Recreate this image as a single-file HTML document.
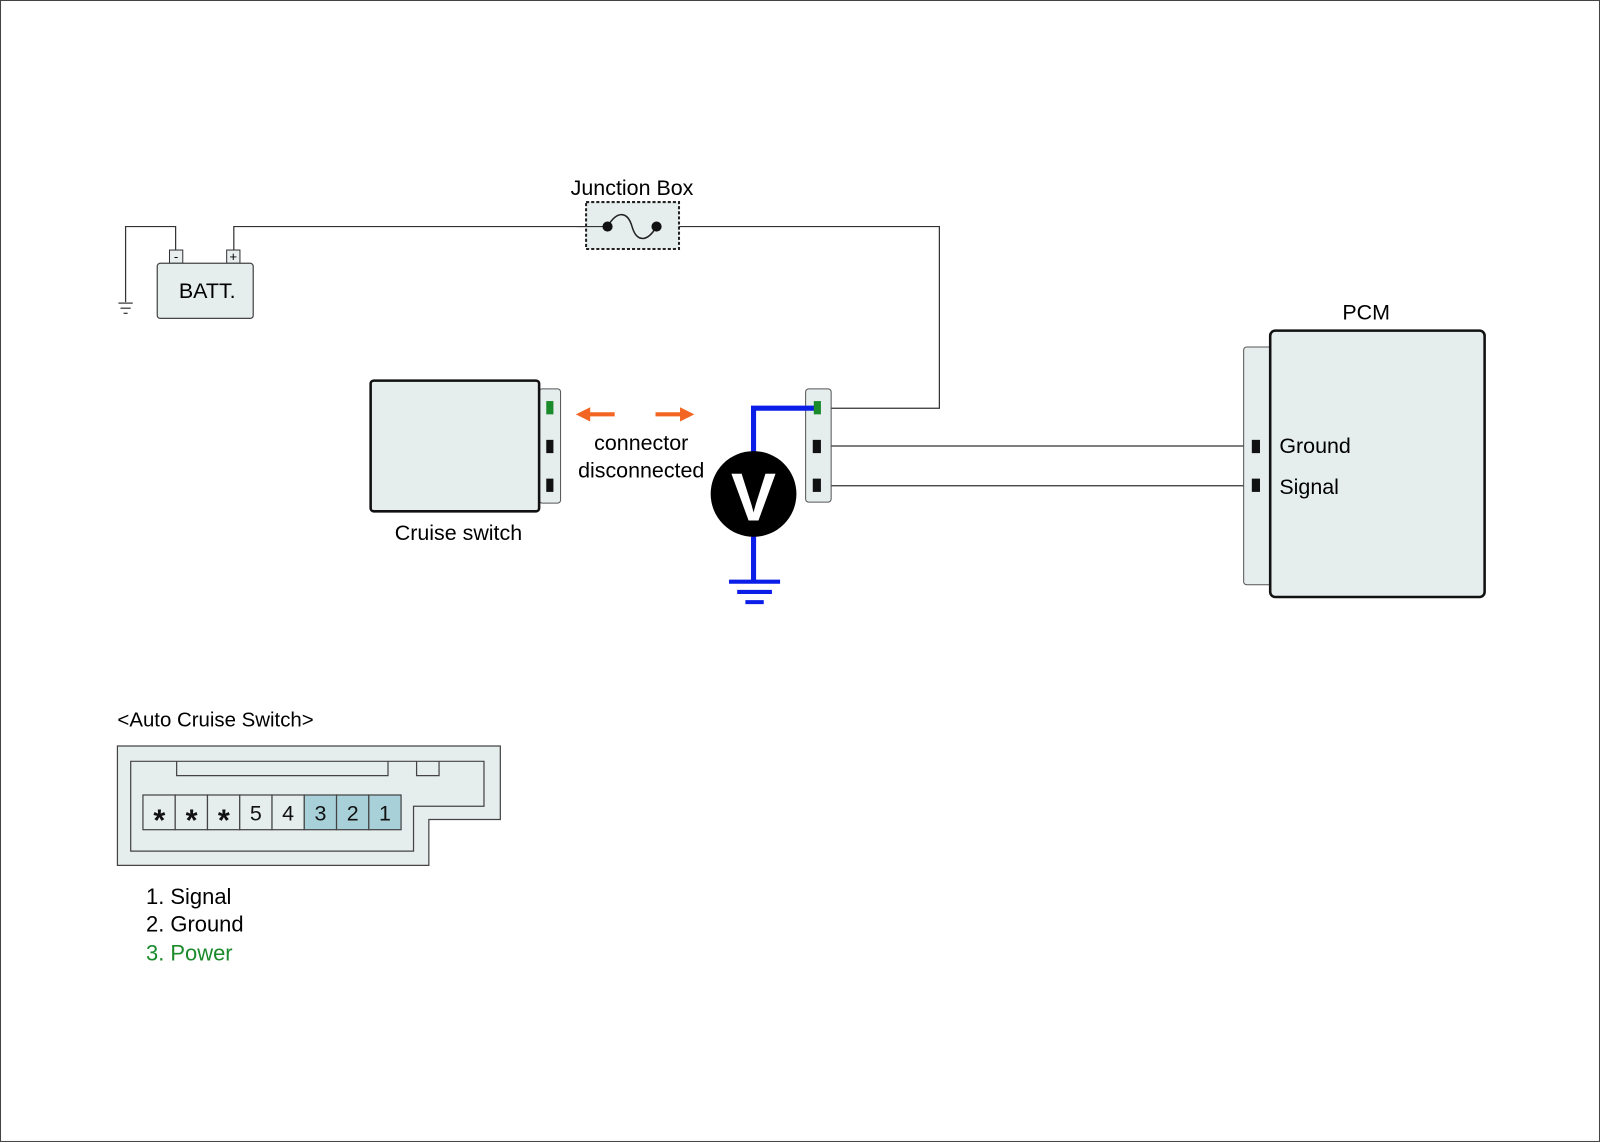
<!DOCTYPE html>
<html><head><meta charset="utf-8"><style>html,body{margin:0;padding:0;background:#fff}svg{display:block}</style></head><body>
<svg width="1600" height="1143" viewBox="0 0 1567 1120" preserveAspectRatio="none" xmlns="http://www.w3.org/2000/svg" font-family="Liberation Sans, Arial, sans-serif">
<rect x="0.5" y="0.5" width="1566" height="1118" fill="#fff" stroke="#444"/>
<g stroke="#333" fill="none" stroke-width="1.2">
<polyline points="172,245 172,222 123,222 123,296"/>
<line x1="116" y1="297" x2="130" y2="297"/><line x1="118" y1="302" x2="128" y2="302"/><line x1="121" y1="307" x2="125" y2="307"/>
<polyline points="229,245 229,222 595,222"/>
<polyline points="643,222 920,222 920,400 800,400"/>
</g>
<rect x="166" y="245" width="13" height="13" fill="#e8eeee" stroke="#333"/>
<rect x="222" y="245" width="13" height="13" fill="#e8eeee" stroke="#333"/>
<text x="172.5" y="256" font-size="13" text-anchor="middle">-</text>
<text x="228.5" y="256" font-size="13" text-anchor="middle">+</text>
<rect x="154" y="258" width="94" height="54" rx="3" fill="#e6eded" stroke="#444" stroke-width="1.2"/>
<text x="203" y="292" font-size="21" text-anchor="middle">BATT.</text>
<text x="619" y="191" font-size="21" text-anchor="middle">Junction Box</text>
<rect x="574" y="198" width="91" height="46" fill="#e6eded" stroke="#222" stroke-width="2" stroke-dasharray="3,2"/>
<line x1="565" y1="222" x2="595" y2="222" stroke="#333"/>
<path d="M595,222 C605,205 615,208 619,222 C623,236 633,239 643,222" fill="none" stroke="#222" stroke-width="1.5"/>
<circle cx="595" cy="222" r="5" fill="#111"/><circle cx="643" cy="222" r="5" fill="#111"/>
<rect x="528" y="381" width="21" height="112" rx="3" fill="#e6eded" stroke="#555"/>
<rect x="363" y="373" width="165" height="128" rx="3" fill="#e6eded" stroke="#111" stroke-width="2.5"/>
<rect x="535" y="393" width="7" height="13" fill="#1a8a2a"/>
<rect x="535" y="431" width="7" height="13" fill="#111"/>
<rect x="535" y="469" width="7" height="13" fill="#111"/>
<text x="449" y="529" font-size="21" text-anchor="middle">Cruise switch</text>
<g fill="#f26522" stroke="#f26522">
<line x1="575" y1="406" x2="602" y2="406" stroke-width="4"/><polygon points="564,406 578,399 578,413" stroke="none"/>
<line x1="642" y1="406" x2="668" y2="406" stroke-width="4"/><polygon points="680,406 666,399 666,413" stroke="none"/>
</g>
<text x="628" y="441" font-size="21" text-anchor="middle">connector</text>
<text x="628" y="468" font-size="21" text-anchor="middle">disconnected</text>
<g stroke="#333" stroke-width="1.2"><line x1="800" y1="437" x2="1228" y2="437"/><line x1="800" y1="476" x2="1228" y2="476"/></g>
<rect x="789" y="381" width="25" height="111" rx="3" fill="#e6eded" stroke="#555"/>
<polyline points="800,400 738,400 738,570" fill="none" stroke="#0a1ee8" stroke-width="5"/>
<rect x="797" y="393" width="7" height="13" fill="#1a8a2a"/>
<rect x="796" y="431" width="8" height="13" fill="#111"/>
<rect x="796" y="469" width="8" height="13" fill="#111"/>
<circle cx="738" cy="484" r="42" fill="#000"/>
<text x="738" y="510" font-size="66" font-weight="bold" fill="#fff" text-anchor="middle">V</text>
<g stroke="#0a1ee8" stroke-width="4"><line x1="714" y1="570" x2="764" y2="570"/><line x1="722" y1="580" x2="756" y2="580"/><line x1="730" y1="590" x2="748" y2="590"/></g>
<text x="1338" y="313" font-size="21" text-anchor="middle">PCM</text>
<rect x="1218" y="340" width="30" height="233" rx="3" fill="#e6eded" stroke="#555"/>
<rect x="1244" y="324" width="210" height="261" rx="5" fill="#e6eded" stroke="#111" stroke-width="2.5"/>
<rect x="1226" y="431" width="8" height="13" fill="#111"/>
<rect x="1226" y="469" width="8" height="13" fill="#111"/>
<text x="1253" y="444" font-size="21">Ground</text>
<text x="1253" y="484" font-size="21">Signal</text>
<text x="115" y="712" font-size="20">&lt;Auto Cruise Switch&gt;</text>
<polygon points="115,731 490,731 490,803 420,803 420,848 115,848" fill="#e6eded" stroke="#444" stroke-width="1.2"/>
<polygon points="128,746 474,746 474,790 405,790 405,834 128,834" fill="#e6eded" stroke="#444" stroke-width="1.2"/>
<polyline points="173,746 173,760 380,760 380,746" fill="none" stroke="#444" stroke-width="1.2"/>
<polyline points="408,746 408,760 430,760 430,746" fill="none" stroke="#444" stroke-width="1.2"/>
<g stroke="#444" stroke-width="1.2">
<rect x="140" y="779" width="31.6" height="34" fill="#e6eded"/>
<rect x="171.6" y="779" width="31.6" height="34" fill="#e6eded"/>
<rect x="203.2" y="779" width="31.6" height="34" fill="#e6eded"/>
<rect x="234.8" y="779" width="31.6" height="34" fill="#e6eded"/>
<rect x="266.4" y="779" width="31.6" height="34" fill="#e6eded"/>
<rect x="298" y="779" width="31.6" height="34" fill="#a8d0d8"/>
<rect x="329.6" y="779" width="31.6" height="34" fill="#a8d0d8"/>
<rect x="361.2" y="779" width="31.6" height="34" fill="#a8d0d8"/>
</g>
<g font-size="21" text-anchor="middle" fill="#111">
<text x="156" y="814" font-size="30" font-weight="bold">*</text><text x="187.6" y="814" font-size="30" font-weight="bold">*</text><text x="219.2" y="814" font-size="30" font-weight="bold">*</text>
<text x="250.6" y="804">5</text><text x="282.2" y="804">4</text><text x="313.8" y="804">3</text><text x="345.4" y="804">2</text><text x="377" y="804">1</text>
</g>
<text x="143" y="886" font-size="21.5">1. Signal</text>
<text x="143" y="913" font-size="21.5">2. Ground</text>
<text x="143" y="941" font-size="21.5" fill="#1a8a2a">3. Power</text>
</svg>
</body></html>
